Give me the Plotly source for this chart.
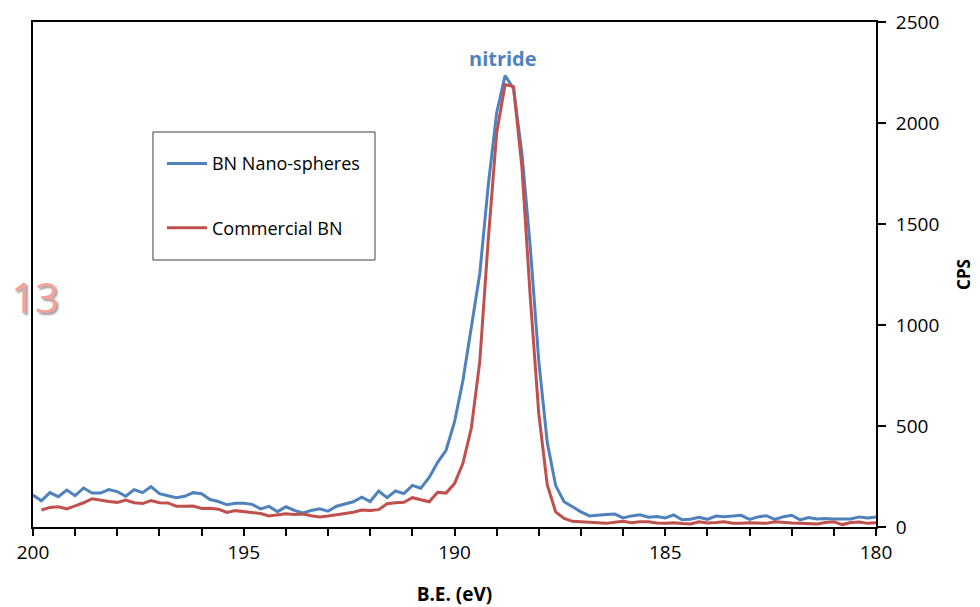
import numpy as np
import plotly.graph_objects as go

# Binding energy grid (eV), 0.2 eV step from 200 to 180
be_start, be_stop, n_pts = 200.0, 180.0, 101
be = np.round(np.linspace(be_start, be_stop, n_pts), 1)

bn_nanospheres = [
    158, 130, 170, 150, 183, 155, 193, 168, 168, 185,
    175, 152, 185, 170, 200, 165, 155, 145, 152, 170,
    165, 136, 126, 110, 117, 118, 112, 90, 102, 76,
    100, 82, 70, 82, 90, 78, 103, 115, 125, 148,
    126, 178, 145, 178, 165, 206, 192, 245, 320, 380,
    520, 725, 980, 1255, 1690, 2050, 2235, 2170, 1850, 1380,
    820, 420, 205, 125, 100, 75, 55, 60, 62, 64,
    45, 55, 60, 48, 52, 45, 60, 36, 38, 48,
    38, 54, 51, 54, 58, 38, 50, 56, 38, 51,
    58, 35, 47, 40, 42, 40, 40, 40, 50, 45,
    50,
]

commercial_bn = [
    None, 84, 97, 100, 90, 105, 120, 140, 132, 126,
    122, 133, 120, 116, 131, 120, 119, 103, 103, 104,
    92, 93, 88, 72, 81, 77, 70, 67, 55, 59,
    66, 62, 64, 56, 49, 54, 60, 66, 73, 84,
    82, 86, 115, 120, 122, 145, 136, 125, 172, 168,
    215, 315, 490, 820, 1420, 1950, 2190, 2180, 1780, 1130,
    560, 210, 75, 42, 28, 26, 24, 21, 18, 24,
    28, 21, 26, 26, 20, 18, 21, 17, 15, 26,
    20, 22, 26, 19, 18, 21, 19, 18, 26, 22,
    20, 18, 17, 15, 22, 26, 12, 22, 25, 18,
    21,
]

series_names = ["BN Nano-spheres", "Commercial BN"]
series_colors = ["#4F81BD", "#C0504D"]
x_ticks = [200, 195, 190, 185, 180]
y_ticks = [0, 500, 1000, 1500, 2000, 2500]

FONT = "Open Sans"

fig = go.Figure()
for name, vals, col, grp in zip(series_names, [bn_nanospheres, commercial_bn],
                                series_colors, ["a", "b"]):
    fig.add_trace(go.Scatter(
        x=be, y=vals, mode="lines", name=name, legendgroup=grp,
        line=dict(color=col, width=3), connectgaps=False,
    ))

# page body has an 8px default margin, so the figure is sized to fit the window
fig.update_layout(
    width=972, height=599,
    margin=dict(l=25, r=104, t=14, b=80),
    paper_bgcolor="white", plot_bgcolor="white",
    font=dict(family=FONT, size=17, color="black"),
    showlegend=True,
    legend=dict(
        x=0.153, y=0.756, xanchor="left", yanchor="top",
        bgcolor="rgba(0,0,0,0)", borderwidth=0,
        font=dict(family=FONT, size=18, color="black"),
        tracegroupgap=38, itemwidth=40,
    ),
    xaxis=dict(
        range=[200, 180], tickvals=x_ticks, automargin=False,
        showline=True, linecolor="black", linewidth=2, mirror=True,
        ticks="outside", ticklen=7, tickwidth=2, tickcolor="black",
        minor=dict(dtick=1, ticks="outside", ticklen=7, tickwidth=2, tickcolor="black"),
        showgrid=False, zeroline=False,
        tickfont=dict(family=FONT, size=19),
        title=dict(text="<b>B.E. (eV)</b>", font=dict(family=FONT, size=19), standoff=29),
    ),
    yaxis=dict(
        range=[0, 2500], tickvals=y_ticks, side="right", automargin=False,
        showline=True, linecolor="black", linewidth=2, mirror=True,
        ticks="outside", ticklen=8, tickwidth=2, tickcolor="black",
        ticklabelstandoff=6,
        showgrid=False, zeroline=False,
        tickfont=dict(family=FONT, size=19),
        title=dict(text="<b>CPS</b>", font=dict(family=FONT, size=17), standoff=20),
    ),
)

# legend frame
fig.add_shape(type="rect", xref="paper", yref="paper",
              x0=0.1423, x1=0.4057, y0=0.5287, y1=0.7822,
              line=dict(color="#404040", width=1), fillcolor="rgba(0,0,0,0)")

# peak annotation
fig.add_annotation(x=188.85, y=2317, xref="x", yref="y", text="<b>nitride</b>",
                   showarrow=False, font=dict(family=FONT, size=20, color="#4F81BD"))

# "13" label with soft shadow
fig.add_annotation(x=0.0024, y=0.457, xref="paper", yref="paper", text="13",
                   xanchor="center", yanchor="middle", showarrow=False,
                   font=dict(family=FONT, size=42, color="#F2A29C",
                             shadow="2px 2px 2px rgba(90,90,90,0.6)"))

fig.write_html("out.html")
